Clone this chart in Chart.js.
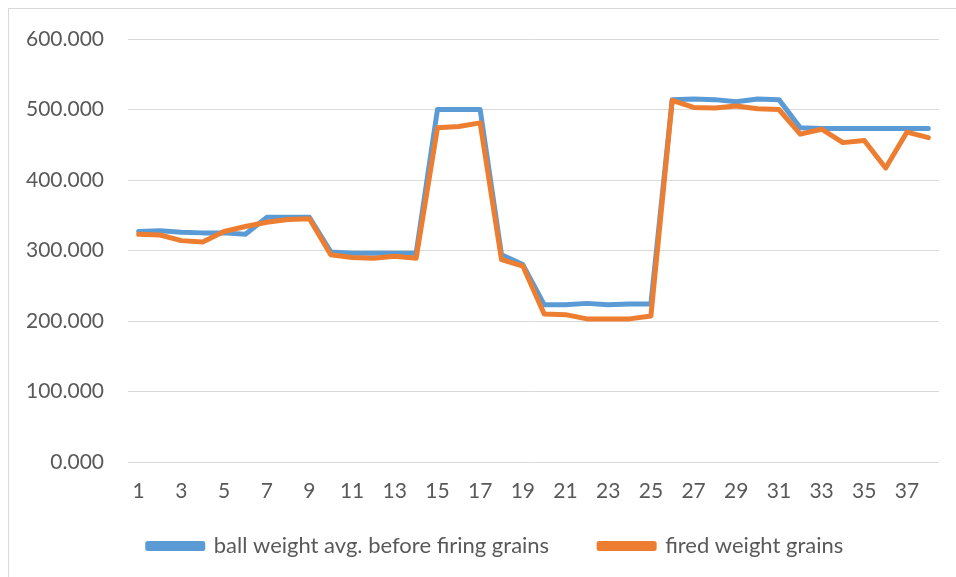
<!DOCTYPE html>
<html>
<head>
<meta charset="utf-8">
<script src="https://cdn.jsdelivr.net/npm/chart.js@4.4.1/dist/chart.umd.min.js"></script>
<style>
  html, body { margin: 0; padding: 0; background: #fff; }
  #wrap { position: relative; width: 956px; height: 577px; }
  #frame { position: absolute; left: 8px; top: 8px; width: 960px; height: 580px; border: 1px solid #d9d9d9; box-sizing: border-box; }
  canvas { position: absolute; left: 0; top: 0; }
</style>
</head>
<body>
<div id="wrap">
  <div id="frame"></div>
  <canvas id="lineChart" width="956" height="577"></canvas>
</div>
<script>
// shot numbers 1..38
const shots = ["1","2","3","4","5","6","7","8","9","10","11","12","13","14","15","16","17","18","19",
  "20","21","22","23","24","25","26","27","28","29","30","31","32","33","34","35","36","37","38"];

const ballWeight = [327, 328, 326, 325, 325, 323, 347, 347, 347, 298, 296, 296, 296, 296, 500, 500, 500, 294, 280,
  223, 223, 225, 223, 224, 224, 514, 515, 514, 511, 515, 514, 474, 473, 473, 473, 473, 473, 473];

const firedWeight = [323, 322, 314, 312, 327, 334, 340, 344, 345, 294, 290, 289, 292, 289, 474, 476, 481, 287, 278,
  210, 209, 203, 203, 203, 207, 513, 503, 502, 505, 501, 500, 465, 472, 453, 456, 417, 468, 460];

const yTicks = [0, 100, 200, 300, 400, 500, 600];

const axisFont = { family: "Lato, 'Open Sans', sans-serif", size: 21 };
const legendFont = { family: "Lato, 'Open Sans', sans-serif", size: 22 };

// nudge the legend box (Excel puts it a bit right of centre and closer to the axis)
const legendShift = {
  id: "legendShift",
  afterLayout(chart) {
    const lg = chart.legend;
    lg.left += 26;
    lg.right += 26;
    lg.top -= 52;
  },
};

var ctx = document.getElementById("lineChart").getContext("2d");
var chart = new Chart(ctx, {
  type: "line",
  data: {
    labels: shots,
    datasets: [
      {
        label: "ball weight avg. before firing grains",
        data: ballWeight,
        borderColor: "#5b9bd5",
        backgroundColor: "#5b9bd5",
        borderWidth: 5,
        borderJoinStyle: "round",
        borderCapStyle: "round",
        pointRadius: 0,
        tension: 0,
        order: 2,
      },
      {
        label: "fired weight grains",
        data: firedWeight,
        borderColor: "#ed7d31",
        backgroundColor: "#ed7d31",
        borderWidth: 5,
        borderJoinStyle: "round",
        borderCapStyle: "round",
        pointRadius: 0,
        tension: 0,
        order: 1,
      },
    ],
  },
  plugins: [legendShift],
  options: {
    responsive: false,
    animation: false,
    layout: { padding: { top: 39, right: 17, left: 0, bottom: 0 } },
    plugins: {
      tooltip: { enabled: false },
      legend: {
        position: "bottom",
        maxHeight: 40,
        labels: {
          sort: (a, b) => a.datasetIndex - b.datasetIndex,
          boxWidth: 55,
          boxHeight: 5,
          padding: 50,
          color: "#595959",
          font: legendFont,
        },
      },
    },
    scales: {
      x: {
        offset: true,
        grid: { display: false, drawTicks: false },
        border: { display: false },
        ticks: {
          autoSkip: false,
          maxRotation: 0,
          padding: 17,
          color: "#595959",
          font: axisFont,
          callback: (v, i) => (i % 2 === 0 ? shots[i] : ""),
        },
        afterFit: (s) => { s.height = 75; },
      },
      y: {
        min: 0,
        max: 600,
        afterBuildTicks: (s) => { s.ticks = yTicks.map((v) => ({ value: v })); },
        grid: { color: "#d9d9d9", lineWidth: 1, drawTicks: false },
        border: { display: false },
        ticks: {
          padding: 24,
          color: "#595959",
          font: axisFont,
          callback: (v) => v.toFixed(3),
        },
        afterFit: (s) => { s.width = 128; },
      },
    },
  },
});
</script>
</body>
</html>
